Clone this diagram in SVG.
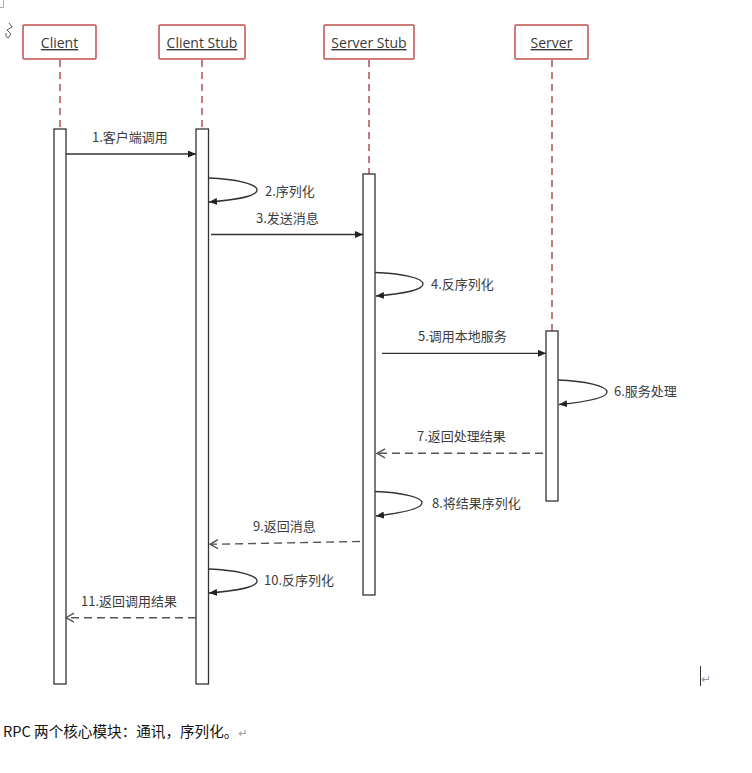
<svg xmlns="http://www.w3.org/2000/svg" width="752" height="773" viewBox="0 0 752 773">
<defs>
<style>
.box{fill:#fff;stroke:#c0504d;stroke-width:1.5}
.hd{font-family:"Open Sans","DejaVu Sans",sans-serif;font-size:14px;fill:#3a3a3a;text-anchor:middle;text-decoration:underline}
.life{stroke:#b04048;stroke-width:1.4;stroke-dasharray:7 5;fill:none}
.bar{fill:#fff;stroke:#333;stroke-width:1.3}
.msg{stroke:#333;stroke-width:1.3;fill:none}
.ret{stroke:#555;stroke-width:1.4;stroke-dasharray:8 5;fill:none}
.lbl{font-family:"Noto Sans CJK SC","Noto Sans",sans-serif;font-size:13px;fill:#3c3c3c}
</style>
<marker id="fa" viewBox="0 0 8 7" refX="8" refY="3.5" markerWidth="8" markerHeight="7" markerUnits="userSpaceOnUse" orient="auto">
<path d="M0,0 L8,3.5 L0,7 z" fill="#222"/>
</marker>
<marker id="oa" viewBox="0 0 8 9" refX="8" refY="4.5" markerWidth="8" markerHeight="9" markerUnits="userSpaceOnUse" orient="auto" overflow="visible">
<path d="M0,0 L8,4.5 L0,9" fill="none" stroke="#555" stroke-width="1.4"/>
</marker>
</defs>
<rect width="752" height="773" fill="#fff"/>

<g id="marks" fill="none" stroke="#aaa" stroke-width="1">
<path d="M3.5,0 V7.5 H0"/>
<path d="M9,23 L12,27 L7,30 L11,34 L8,38 M6,33 Q5,37 8,38" stroke="#555"/>
</g>

<g id="client">
<rect class="box" x="23" y="25" width="73" height="34" rx="1"/>
<text class="hd" x="59.5" y="48">Client</text>
<line class="life" x1="60" y1="60" x2="60" y2="129"/>
<rect class="bar" x="54" y="129" width="12" height="555"/>
</g>

<g id="client-stub">
<rect class="box" x="159" y="25" width="86" height="34" rx="1"/>
<text class="hd" x="202" y="48">Client Stub</text>
<line class="life" x1="202" y1="60" x2="202" y2="129"/>
<rect class="bar" x="196" y="129" width="12.5" height="555"/>
</g>

<g id="server-stub">
<rect class="box" x="324" y="25" width="90" height="34" rx="1"/>
<text class="hd" x="369" y="48">Server Stub</text>
<line class="life" x1="369" y1="60" x2="369" y2="174"/>
<rect class="bar" x="363" y="174" width="12" height="421"/>
</g>

<g id="server">
<rect class="box" x="515" y="25" width="73" height="34" rx="1"/>
<text class="hd" x="551.5" y="48">Server</text>
<line class="life" x1="552" y1="60" x2="552" y2="331"/>
<rect class="bar" x="546" y="331" width="12" height="170"/>
</g>

<g id="connectors">
<line class="msg" x1="66" y1="154" x2="196" y2="154" marker-end="url(#fa)"/>
<path class="msg" d="M208.5,178 C236,179 257,184 257,190 C257,196 236,200 209,202" marker-end="url(#fa)"/>
<line class="msg" x1="211" y1="234.5" x2="363" y2="234.5" marker-end="url(#fa)"/>
<path class="msg" d="M375,272.5 C402,273.5 423,278 423,284 C423,290 402,294 376,296" marker-end="url(#fa)"/>
<line class="msg" x1="382" y1="353.3" x2="546" y2="353.3" marker-end="url(#fa)"/>
<path class="msg" d="M558,380 C585,381 607,386 607,392 C607,398 585,402 559,404.5" marker-end="url(#fa)"/>
<line class="ret" x1="543" y1="453.3" x2="377" y2="453.3" marker-end="url(#oa)"/>
<path class="msg" d="M375,491.5 C401,492.5 422,497 422,503 C422,509 401,513 376,516" marker-end="url(#fa)"/>
<line class="ret" x1="360" y1="541.5" x2="210" y2="544.3" marker-end="url(#oa)"/>
<path class="msg" d="M208.5,569 C236,570 257,575 257,581 C257,587 236,591 209,593" marker-end="url(#fa)"/>
<line class="ret" x1="196" y1="617.7" x2="66" y2="617.7" marker-end="url(#oa)"/>
</g>

<g id="labels">
<text class="lbl" x="92" y="142">1.客户端调用</text>
<text class="lbl" x="265" y="195.5">2.序列化</text>
<text class="lbl" x="256" y="222.5">3.发送消息</text>
<text class="lbl" x="431" y="288.5">4.反序列化</text>
<text class="lbl" x="418" y="341">5.调用本地服务</text>
<text class="lbl" x="614" y="395.5">6.服务处理</text>
<text class="lbl" x="417" y="441">7.返回处理结果</text>
<text class="lbl" x="432" y="507.5">8.将结果序列化</text>
<text class="lbl" x="253" y="530.5">9.返回消息</text>
<text class="lbl" x="264" y="585">10.反序列化</text>
<text class="lbl" x="81" y="605.5">11.返回调用结果</text>
</g>

<g id="cursor">
<line x1="700.5" y1="666" x2="700.5" y2="686" stroke="#333" stroke-width="1"/>
<text x="701" y="683" font-family="DejaVu Sans,sans-serif" font-size="12" fill="#999">↵</text>
</g>

<g id="caption">
<text x="3" y="737" font-family="Noto Sans CJK SC,sans-serif" font-size="14.6" fill="#111">RPC 两个核心模块：通讯，序列化。<tspan font-family="DejaVu Sans,sans-serif" font-size="11" fill="#999">↵</tspan></text>
</g>
</svg>
